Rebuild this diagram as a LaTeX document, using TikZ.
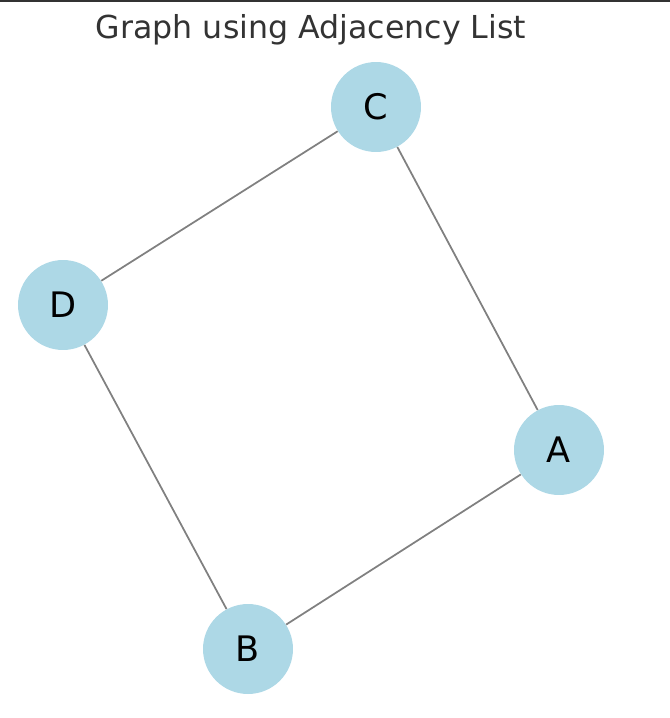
\documentclass[tikz,border=0pt]{standalone}
\usepackage{fontspec}
\setmainfont{DejaVu Sans}
\definecolor{nodeblue}{HTML}{ADD8E6}
\definecolor{titlegray}{HTML}{333333}
\begin{document}
\begin{tikzpicture}[x=0.02cm, y=-0.02cm]
\useasboundingbox (0,0) rectangle (670,718);
\coordinate (top0) at (0,0.8);
\coordinate (top1) at (670,0.8);
\draw[line width=1.1pt, titlegray](top0) -- (top1);
\node[text=titlegray, font=\fontsize{18}{21}\selectfont] (title) at (311,29.5){Graph using Adjacency List};
\node[circle, minimum size=1.8cm, inner sep=0, fill=nodeblue, font=\fontsize{20}{24}\selectfont] (nodeA) at (559,450){A};
\node[circle, minimum size=1.8cm, inner sep=0, fill=nodeblue, font=\fontsize{20}{24}\selectfont] (nodeB) at (248,649){B};
\node[circle, minimum size=1.8cm, inner sep=0, fill=nodeblue, font=\fontsize{20}{24}\selectfont] (nodeC) at (376,107){C};
\node[circle, minimum size=1.8cm, inner sep=0, fill=nodeblue, font=\fontsize{20}{24}\selectfont] (nodeD) at (63,305){D};
\draw[gray, line width=1pt](nodeA) -- (nodeC);
\draw[gray, line width=1pt](nodeC) -- (nodeD);
\draw[gray, line width=1pt](nodeD) -- (nodeB);
\draw[gray, line width=1pt](nodeB) -- (nodeA);
\end{tikzpicture}
\end{document}
